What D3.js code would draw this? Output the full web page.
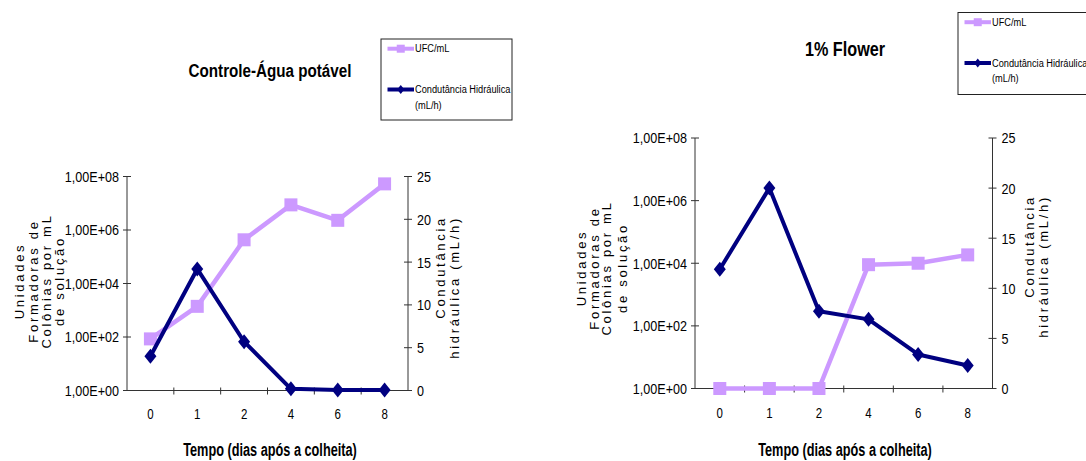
<!DOCTYPE html>
<html><head><meta charset="utf-8">
<script src="https://cdn.jsdelivr.net/npm/d3@7"></script>
<style>body{margin:0;background:#fff;} svg{display:block}</style>
</head><body>
<script>
// ---- data ----
const categories = ["0","1","2","4","6","8"];
const controlUFC = [85, 1400, 430000, 8700000, 2300000, 53000000];
const controlCond = [4.0, 14.2, 5.7, 0.2, 0.05, 0.05];
const flowerUFC = [1, 1, 1, 9000, 10000, 18500];
const flowerCond = [11.9, 20.0, 7.7, 6.9, 3.4, 2.3];
const leftTicks = [1, 1e2, 1e4, 1e6, 1e8];
const leftTickLabels = ["1,00E+00","1,00E+02","1,00E+04","1,00E+06","1,00E+08"];
const rightTicks = [0, 5, 10, 15, 20, 25];
const titles = ["Controle-Água potável", "1% Flower"];
const xTitle = "Tempo (dias após a colheita)";
const yLeftTitle = ["Unidades", "Formadoras de", "Colônias por mL", "de solução"];
const yRightTitle = ["Condutância", "hidráulica (mL/h)"];
const legendLabels = ["UFC/mL", "Condutância Hidráulica", "(mL/h)"];

// ---- drawing ----
const W = 1086, H = 461;
const LAV = "#CC99FF", NAVY = "#000080", AX = "#333";
const FONT = "'Liberation Sans', Arial, sans-serif";
const svg = d3.select("body").append("svg").attr("width", W).attr("height", H);

function txt(g, x, y, s, o = {}) {
  const t = g.append("text")
    .attr("transform", `translate(${x},${y})` + (o.rot ? ` rotate(${o.rot})` : "") + ` scale(${o.sx || 1},1)`)
    .attr("text-anchor", o.anchor || "start")
    .attr("dominant-baseline", o.db || "auto")
    .style("font-family", FONT).style("font-size", (o.size || 12) + "px")
    .style("font-weight", o.bold ? "bold" : "normal")
    .attr("fill", "#000").text(s);
  if (o.ls) t.style("letter-spacing", o.ls + "px");
  return t;
}

const panels = [
  {title: titles[0], ufc: controlUFC, cond: controlCond, x0: 127, x1: 408, y0: 176.5, y1: 390.5,
   titleX: 270, titleY: 77, titleSize: 19, titleSx: 0.8,
   leg: {x: 381, y: 39, w: 131, h: 81},
   yL: [-103, -89, -76, -63], yLc: 281, yR: [37, 51], yRtop: 216, xTitleX: 270, xTitleY: 456, xTickY: 414},
  {title: titles[1], ufc: flowerUFC, cond: flowerCond, x0: 695, x1: 992.5, y0: 138, y1: 388.5,
   titleX: 845, titleY: 56, titleSize: 20, titleSx: 0.81,
   leg: {x: 958, y: 12.5, w: 150, h: 82},
   yL: [-109, -96, -84, -68], yLc: 268, yR: [41, 55], yRtop: 195, xTitleX: 845, xTitleY: 456, xTickY: 413}
];

const diamond = "M0,-7.5L6,0L0,7.5L-6,0Z";

panels.forEach(p => {
  const g = svg.append("g");
  const x = d3.scaleBand().domain(categories).range([p.x0, p.x1]).padding(0);
  const yl = d3.scaleLog().domain([1, 1e8]).range([p.y1, p.y0]);
  const yr = d3.scaleLinear().domain([0, 25]).range([p.y1, p.y0]);
  const cx = c => x(c) + x.bandwidth() / 2;

  // axes lines
  g.append("line").attr("x1", p.x0).attr("x2", p.x0).attr("y1", p.y0).attr("y2", p.y1).attr("stroke", AX);
  g.append("line").attr("x1", p.x1).attr("x2", p.x1).attr("y1", p.y0).attr("y2", p.y1).attr("stroke", AX);
  g.append("line").attr("x1", p.x0).attr("x2", p.x1).attr("y1", p.y1).attr("y2", p.y1).attr("stroke", AX);

  // left ticks
  leftTicks.forEach((t, i) => {
    const yy = yl(t);
    g.append("line").attr("x1", p.x0 - 4).attr("x2", p.x0 + 4).attr("y1", yy).attr("y2", yy).attr("stroke", AX);
    txt(g, p.x0 - 8, yy, leftTickLabels[i], {anchor: "end", db: "central", size: 15, sx: 0.84});
  });
  // right ticks
  rightTicks.forEach(t => {
    const yy = yr(t);
    g.append("line").attr("x1", p.x1 - 4).attr("x2", p.x1 + 4).attr("y1", yy).attr("y2", yy).attr("stroke", AX);
    txt(g, p.x1 + 9, yy, String(t), {anchor: "start", db: "central", size: 15, sx: 0.84});
  });
  // x ticks at band boundaries
  categories.forEach((c, i) => {
    if (i > 0) g.append("line").attr("x1", x(c)).attr("x2", x(c)).attr("y1", p.y1 - 3).attr("y2", p.y1 + 4).attr("stroke", AX);
    txt(g, cx(c), p.xTickY, c, {anchor: "middle", db: "central", size: 14, sx: 0.82});
  });

  // UFC series
  const lineL = d3.line().x((d, i) => cx(categories[i])).y(d => yl(d));
  g.append("path").datum(p.ufc).attr("d", lineL).attr("fill", "none").attr("stroke", LAV).attr("stroke-width", 4.5).attr("stroke-linejoin", "round");
  g.selectAll(".sq").data(p.ufc).enter().append("rect")
    .attr("x", (d, i) => cx(categories[i]) - 6.5).attr("y", d => yl(d) - 6.5)
    .attr("width", 13).attr("height", 13).attr("fill", LAV);

  // Conductance series
  const lineR = d3.line().x((d, i) => cx(categories[i])).y(d => yr(d));
  g.append("path").datum(p.cond).attr("d", lineR).attr("fill", "none").attr("stroke", NAVY).attr("stroke-width", 4).attr("stroke-linejoin", "round");
  g.selectAll(".dm").data(p.cond).enter().append("path")
    .attr("transform", (d, i) => `translate(${cx(categories[i])},${yr(d)})`)
    .attr("d", diamond).attr("fill", NAVY);

  // titles
  txt(g, p.titleX, p.titleY, p.title, {anchor: "middle", size: p.titleSize, sx: p.titleSx, bold: true});
  txt(g, p.xTitleX, p.xTitleY, xTitle, {anchor: "middle", size: 19, sx: 0.67, bold: true});

  // left y title
  yLeftTitle.forEach((s, i) => {
    txt(g, p.x0 + p.yL[i], p.yLc, s, {anchor: "middle", rot: -90, size: 13, ls: 2.7});
  });
  // right y title (aligned at top)
  yRightTitle.forEach((s, i) => {
    txt(g, p.x1 + p.yR[i], p.yRtop, s, {anchor: "end", rot: -90, size: 13, ls: 2.7});
  });

  // legend
  const L = p.leg;
  g.append("rect").attr("x", L.x).attr("y", L.y).attr("width", L.w).attr("height", L.h)
    .attr("fill", "#fff").attr("stroke", "#222").attr("stroke-width", 1);
  const ly1 = L.y + 9.7, ly2 = L.y + 50.5, ly3 = L.y + 66;
  g.append("line").attr("x1", L.x + 6.5).attr("x2", L.x + 33).attr("y1", ly1).attr("y2", ly1).attr("stroke", LAV).attr("stroke-width", 4);
  g.append("rect").attr("x", L.x + 19.75 - 4).attr("y", ly1 - 4).attr("width", 8).attr("height", 8).attr("fill", LAV);
  g.append("line").attr("x1", L.x + 6.5).attr("x2", L.x + 33).attr("y1", ly2).attr("y2", ly2).attr("stroke", NAVY).attr("stroke-width", 4);
  g.append("path").attr("transform", `translate(${L.x + 19.75},${ly2}) scale(0.6)`).attr("d", diamond).attr("fill", NAVY);
  txt(g, L.x + 34, ly1, legendLabels[0], {db: "central", size: 11, sx: 0.84});
  txt(g, L.x + 34, ly2, legendLabels[1], {db: "central", size: 11, sx: 0.84});
  txt(g, L.x + 34, ly3, legendLabels[2], {db: "central", size: 11, sx: 0.84});
});
</script>
</body></html>
